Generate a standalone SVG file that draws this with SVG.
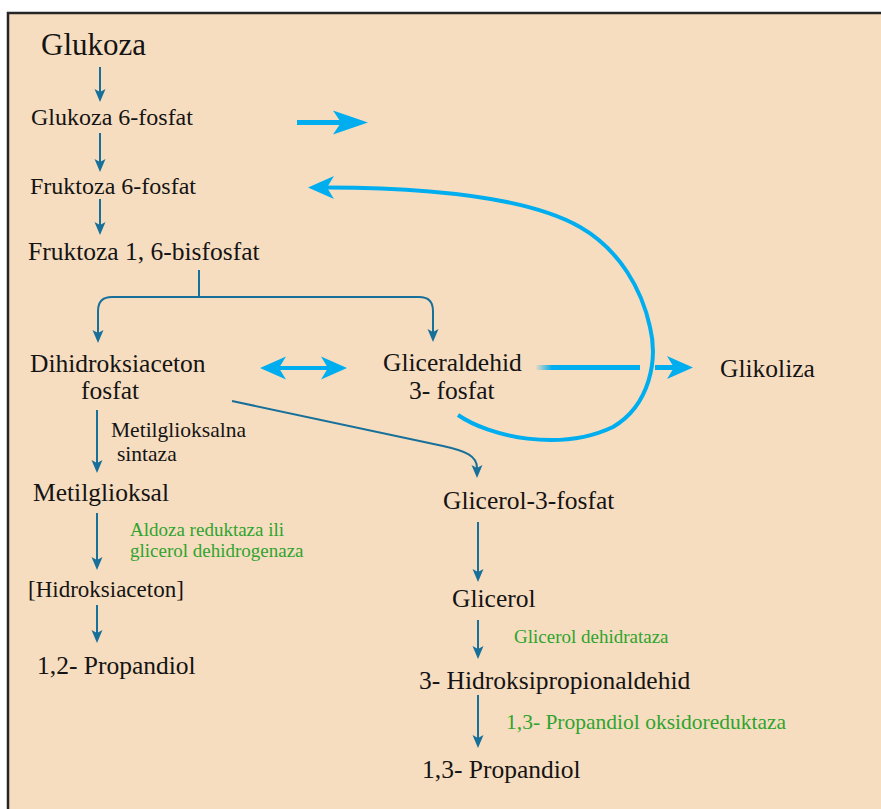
<svg xmlns="http://www.w3.org/2000/svg" width="881" height="809" viewBox="0 0 881 809">
<defs>
<style>
.t{font-family:"Liberation Serif","Times New Roman",serif;fill:#141414}
.g{font-family:"Liberation Serif","Times New Roman",serif;fill:#2ea42e}
.d{fill:none;stroke:#17709a;stroke-width:2;marker-end:url(#md)}
.c{fill:none;stroke:#00aeef}
</style>
<marker id="md" viewBox="0 -6 14 12" refX="3" refY="0" markerWidth="14" markerHeight="12" markerUnits="userSpaceOnUse" orient="auto">
<path d="M13,0 L0,-5.5 L3,0 L0,5.5Z" fill="#17709a"/>
</marker>
<marker id="mc" viewBox="0 -13 36 26" refX="8" refY="0" markerWidth="36" markerHeight="26" markerUnits="userSpaceOnUse" orient="auto">
<path d="M35,0 L0,-12 L8,0 L0,12Z" fill="#00aeef"/>
</marker>
<marker id="mc2" viewBox="0 -13 28 26" refX="7" refY="0" markerWidth="28" markerHeight="26" markerUnits="userSpaceOnUse" orient="auto-start-reverse">
<path d="M26,0 L0,-11.5 L7,0 L0,11.5Z" fill="#00aeef"/>
</marker>
<linearGradient id="fade1" gradientUnits="userSpaceOnUse" x1="535" y1="0" x2="552" y2="0">
<stop offset="0" stop-color="#00aeef" stop-opacity="0"/>
<stop offset="1" stop-color="#00aeef"/>
</linearGradient>
</defs>
<rect x="0" y="0" width="881" height="809" fill="#ffffff"/>
<rect x="8" y="13" width="880" height="800" fill="#f7ddc0"/>
<path d="M8,809 V13 H881" fill="none" stroke="#262626" stroke-width="2.5"/>

<g id="connectors">
<path class="d" d="M100,67 V92"/>
<path class="d" d="M100,133 V162"/>
<path class="d" d="M100,199 V225"/>
<path class="d" d="M199,270 V297 H112 Q98,297 98,311 V333"/>
<path class="d" d="M199,297 H419 Q433,297 433,311 V332"/>
<path class="d" d="M232,401 L443,446 C466,451 477,456 477,468"/>
<path class="d" d="M97,410 V463"/>
<path class="d" d="M97,513 V560"/>
<path class="d" d="M97,605 V633"/>
<path class="d" d="M478,522 V572"/>
<path class="d" d="M478,620 V649"/>
<path class="d" d="M478,695 V738"/>
<path class="c" stroke-width="5" d="M297,122.5 H341" marker-end="url(#mc)"/>
<path class="c" stroke-width="4" d="M279,368 H328" marker-start="url(#mc2)" marker-end="url(#mc2)"/>
<path fill="none" stroke="url(#fade1)" stroke-width="5" d="M535,367.5 H640"/>
<path class="c" stroke-width="5" d="M655,367.5 H674" marker-end="url(#mc2)"/>
<path class="c" stroke-width="4" d="M458,415 C490,437 560,452 613,427 C650,405 658,360 650,327 C642,290 620,250 580,227 C540,204 460,188 327,187.5" marker-end="url(#mc2)"/>
</g>

<g id="glukoza"><text class="t" x="41" y="55" font-size="31">Glukoza</text></g>
<g id="glukoza6f"><text class="t" x="31" y="125" font-size="24">Glukoza 6-fosfat</text></g>
<g id="fruktoza6f"><text class="t" x="30" y="194" font-size="24">Fruktoza 6-fosfat</text></g>
<g id="fruktoza16bf"><text class="t" x="28" y="260" font-size="25.5">Fruktoza 1, 6-bisfosfat</text></g>
<g id="dhap"><text class="t" font-size="25.5"><tspan x="30" y="372">Dihidroksiaceton</tspan><tspan x="81" y="399">fosfat</tspan></text></g>
<g id="g3p"><text class="t" font-size="25.5"><tspan x="383" y="371">Gliceraldehid</tspan><tspan x="409" y="399">3- fosfat</tspan></text></g>
<g id="glikoliza"><text class="t" x="720" y="377" font-size="25.5">Glikoliza</text></g>
<g id="enz-metilglioksalna"><text class="t" font-size="21.5"><tspan x="111" y="437">Metilglioksalna</tspan><tspan x="117" y="461">sintaza</tspan></text></g>
<g id="metilglioksal"><text class="t" x="33" y="501" font-size="25.5">Metilglioksal</text></g>
<g id="enz-aldoza"><text class="g" font-size="19"><tspan x="130" y="536">Aldoza reduktaza ili</tspan><tspan x="130" y="557">glicerol dehidrogenaza</tspan></text></g>
<g id="hidroksiaceton"><text class="t" x="28" y="597" font-size="23">[Hidroksiaceton]</text></g>
<g id="propandiol12"><text class="t" x="37" y="674" font-size="25.5">1,2- Propandiol</text></g>
<g id="glicerol3f"><text class="t" x="443" y="509" font-size="25.5">Glicerol-3-fosfat</text></g>
<g id="glicerol"><text class="t" x="452" y="607" font-size="25.5">Glicerol</text></g>
<g id="enz-dehidrataza"><text class="g" x="514" y="643" font-size="19">Glicerol dehidrataza</text></g>
<g id="hpa"><text class="t" x="419" y="689" font-size="25.5">3- Hidroksipropionaldehid</text></g>
<g id="enz-oksidoreduktaza"><text class="g" x="506" y="729" font-size="21.5">1,3- Propandiol oksidoreduktaza</text></g>
<g id="propandiol13"><text class="t" x="422" y="778" font-size="25.5">1,3- Propandiol</text></g>
</svg>
